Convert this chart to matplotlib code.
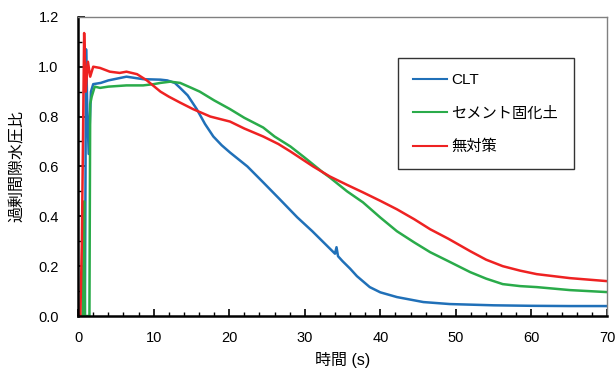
import numpy as np
import matplotlib
matplotlib.use('Agg')
import matplotlib.pyplot as plt

plt.rcParams['font.family'] = ['Liberation Sans', 'Noto Sans CJK JP', 'DejaVu Sans']

# values
t_clt = [0, 0.9, 1.05, 1.2, 1.4, 1.7, 2.0, 3.0, 4.0, 5.6, 6.4, 8.6, 10.9, 11.8, 12.8, 13.5,
         14.5, 15.7, 16.8, 17.9, 19.0, 20.1, 22.4, 24.5, 26.7, 29.0, 31.0, 33.0, 34.0,
         34.2, 34.4, 35.0, 36.0, 36.9, 38.6, 40.0, 42.2, 45.7, 49.2, 55.0, 60.0, 65.0, 70.0]
v_clt = [0, 0, 1.07, 0.85, 0.65, 0.9, 0.93, 0.935, 0.945, 0.955, 0.96, 0.95, 0.948, 0.945,
         0.935, 0.915, 0.885, 0.83, 0.77, 0.72, 0.685, 0.656, 0.60, 0.536, 0.468, 0.396,
         0.34, 0.28, 0.25, 0.276, 0.24, 0.22, 0.19, 0.16, 0.116, 0.095, 0.076, 0.056,
         0.048, 0.043, 0.041, 0.04, 0.04]

t_cem = [0, 0.6, 0.8, 0.9, 1.5, 1.6, 1.8, 2.2, 2.9, 4.0, 6.4, 8.6, 10.0, 10.9, 12.2, 13.5,
         15.0, 16.1, 18.0, 20.1, 22.0, 24.5, 26.0, 28.1, 30.0, 31.1, 32.4, 33.3, 35.6,
         37.7, 40.0, 42.2, 44.5, 46.6, 49.0, 51.9, 54.0, 56.2, 58.5, 60.7, 65.1, 70.0]
v_cem = [0, 0, 0.46, 0, 0, 0.85, 0.88, 0.92, 0.915, 0.92, 0.925, 0.925, 0.93, 0.935, 0.94,
         0.935, 0.915, 0.90, 0.865, 0.83, 0.795, 0.756, 0.72, 0.68, 0.635, 0.608, 0.576,
         0.556, 0.50, 0.456, 0.395, 0.34, 0.295, 0.256, 0.22, 0.176, 0.15, 0.128, 0.12,
         0.116, 0.104, 0.096]

t_none = [0, 0.3, 0.5, 0.8, 1.0, 1.3, 1.6, 2.0, 2.9, 4.2, 5.5, 6.4, 7.8, 9.1, 10.9, 12.0,
          13.5, 15.2, 17.5, 20.1, 22.0, 24.5, 26.5, 28.1, 31.1, 33.3, 35.6, 37.7, 40.0,
          42.2, 44.5, 46.6, 49.0, 51.9, 54.0, 56.2, 58.5, 60.7, 65.1, 70.0]
v_none = [0, 0, 0.3, 1.135, 0.9, 1.02, 0.96, 1.0, 0.995, 0.98, 0.975, 0.98, 0.97, 0.945,
          0.90, 0.88, 0.856, 0.83, 0.80, 0.78, 0.752, 0.72, 0.69, 0.66, 0.60, 0.56,
          0.526, 0.496, 0.462, 0.428, 0.388, 0.348, 0.31, 0.26, 0.226, 0.20, 0.182, 0.168,
          0.152, 0.14]

labels = ['CLT', 'セメント固化土', '無対策']
colors = ['#2070b8', '#2aab4a', '#ee2222']

fig = plt.figure(figsize=(6.15, 3.74), dpi=100)
ax = fig.add_axes([0.127, 0.155, 0.860, 0.800])

ax.plot(t_clt, v_clt, color=colors[0], lw=1.8, label=labels[0])
ax.plot(t_cem, v_cem, color=colors[1], lw=1.8, label=labels[1])
ax.plot(t_none, v_none, color=colors[2], lw=1.8, label=labels[2])

ax.set_xlim(0, 70)
ax.set_ylim(0, 1.2)
ax.set_xticks(np.arange(0, 71, 10))
ax.set_xticks(np.arange(0, 71, 2), minor=True)
ax.set_yticks(np.arange(0, 1.21, 0.2))
ax.set_yticks(np.arange(0, 1.21, 0.1), minor=True)
ax.yaxis.set_major_formatter(matplotlib.ticker.FormatStrFormatter('%.1f'))
ax.tick_params(which='both', direction='in', labelsize=10.5, top=False, right=False)
ax.tick_params(which='major', length=5, width=1.2)
ax.tick_params(which='minor', length=3, width=1.0)
ax.tick_params(axis='x', pad=11)
ax.tick_params(axis='y', pad=14)

for s in ['left', 'bottom']:
    ax.spines[s].set_linewidth(1.8)
    ax.spines[s].set_color('black')
for s in ['top', 'right']:
    ax.spines[s].set_linewidth(1.0)
    ax.spines[s].set_color('#808080')

ax.set_xlabel('時間 (s)', fontsize=11.5, labelpad=5)
ax.set_ylabel('過剰間隙水圧比', fontsize=11.5, labelpad=10)

leg = ax.legend(loc='upper left', bbox_to_anchor=(0.605, 0.863), fontsize=11,
                frameon=True, fancybox=False, edgecolor='#333333', framealpha=1,
                handlelength=2.2, handletextpad=0.3, labelspacing=1.25, borderpad=1.0,
                borderaxespad=0)
leg.get_frame().set_linewidth(1.0)
for line in leg.get_lines():
    line.set_linewidth(1.5)

fig.savefig('out.png', dpi=100)
